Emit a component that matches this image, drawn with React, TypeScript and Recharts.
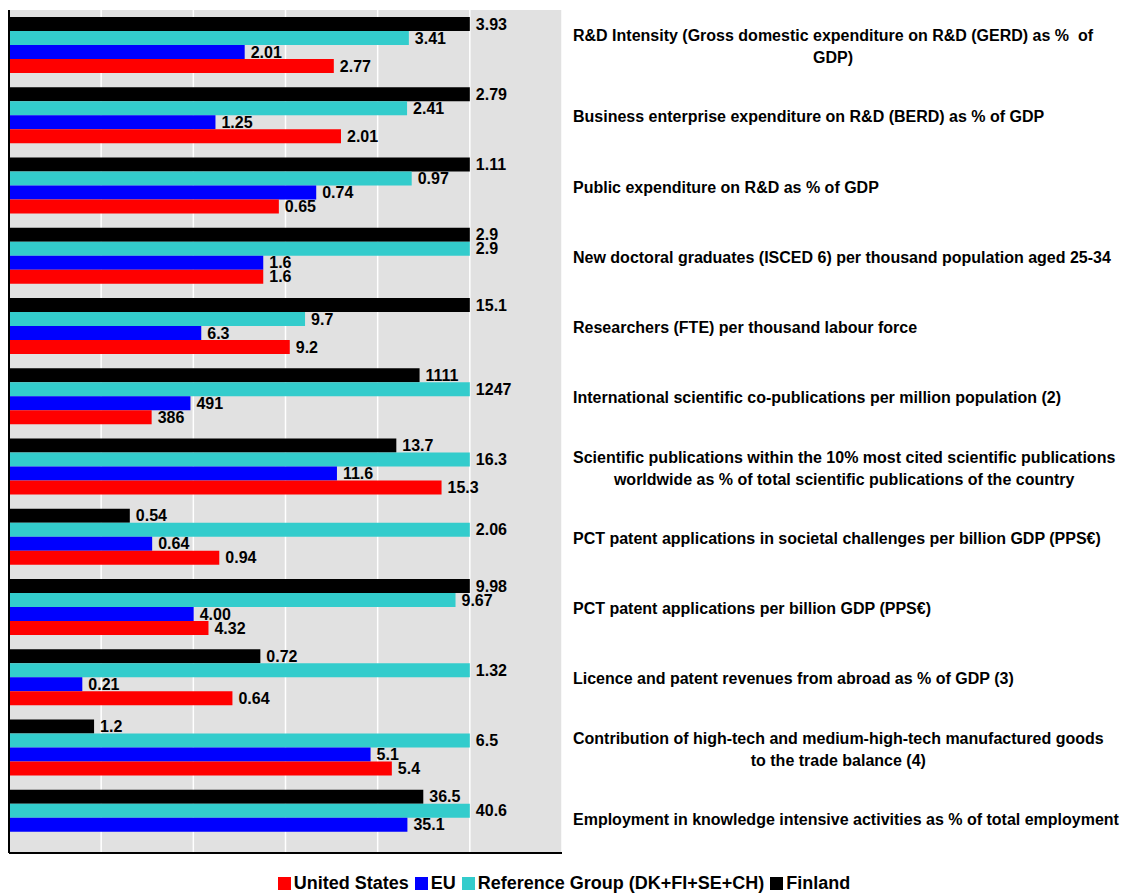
import { BarChart, Bar, XAxis, YAxis, CartesianGrid, LabelList, ReferenceLine } from 'recharts'

const categories = [
  'R&D Intensity (Gross domestic expenditure on R&D (GERD) as %  of\nGDP)',
  'Business enterprise expenditure on R&D (BERD) as % of GDP',
  'Public expenditure on R&D as % of GDP',
  'New doctoral graduates (ISCED 6) per thousand population aged 25-34',
  'Researchers (FTE) per thousand labour force',
  'International scientific co-publications per million population (2)',
  'Scientific publications within the 10% most cited scientific publications\nworldwide as % of total scientific publications of the country',
  'PCT patent applications in societal challenges per billion GDP (PPS€)',
  'PCT patent applications per billion GDP (PPS€)',
  'Licence and patent revenues from abroad as % of GDP (3)',
  'Contribution of high-tech and medium-high-tech manufactured goods\nto the trade balance (4)',
  'Employment in knowledge intensive activities as % of total employment',
]

const finland = [3.93, 2.79, 1.11, 2.9, 15.1, 1111, 13.7, 0.54, 9.98, 0.72, 1.2, 36.5]
const reference = [3.41, 2.41, 0.97, 2.9, 9.7, 1247, 16.3, 2.06, 9.67, 1.32, 6.5, 40.6]
const eu = [2.01, 1.25, 0.74, 1.6, 6.3, 491, 11.6, 0.64, 4.0, 0.21, 5.1, 35.1]
const unitedStates = [2.77, 2.01, 0.65, 1.6, 9.2, 386, 15.3, 0.94, 4.32, 0.64, 5.4, null]
const decimals = [2, 2, 2, 1, 1, 0, 1, 2, 2, 2, 1, 1]

const xTicks = [0, 20, 40, 60, 80, 100, 120]

const FONT = '"Liberation Sans", Arial, sans-serif'
const LABEL_SIZE = 16

const series = [
  { key: 'finland', name: 'Finland', values: finland, color: '#000000' },
  { key: 'reference', name: 'Reference Group (DK+FI+SE+CH)', values: reference, color: '#33CCCC' },
  { key: 'eu', name: 'EU', values: eu, color: '#0000FF' },
  { key: 'us', name: 'United States', values: unitedStates, color: '#FF0000' },
]

const legendOrder = ['us', 'eu', 'reference', 'finland']

// each indicator is scaled so the best performer = 100
const data = categories.map((name, i) => {
  const vals = series.map((s) => s.values[i]).filter((v) => v != null) as number[]
  const max = Math.max(...vals)
  const row: Record<string, any> = { name }
  series.forEach((s) => {
    const v = s.values[i]
    row[s.key] = v == null ? null : (v / max) * 100
    row[s.key + 'Label'] = v == null ? null : v.toFixed(decimals[i])
  })
  return row
})

let measureCtx: CanvasRenderingContext2D | null = null
function textWidth(str: string) {
  if (!measureCtx) {
    measureCtx = document.createElement('canvas').getContext('2d')
  }
  if (!measureCtx) return str.length * 8.5
  measureCtx.font = `bold ${LABEL_SIZE}px "Liberation Sans", Arial, sans-serif`
  return measureCtx.measureText(str).width
}

// label block is left aligned, its lines centred within the block
function CategoryTick(props: any) {
  const { x, y, payload } = props
  const lines = String(payload.value).split('\n')
  const start = -((lines.length - 1) * 22) / 2 + 1.5
  const left = x + 3
  const blockWidth = Math.max(...lines.map(textWidth))
  const centre = left + blockWidth / 2
  return (
    <g>
      {lines.map((line: string, i: number) => (
        <text
          key={i}
          x={lines.length > 1 ? centre : left}
          y={y + start + i * 22}
          dy="0.35em"
          textAnchor={lines.length > 1 ? 'middle' : 'start'}
          xmlSpace="preserve"
          style={{ whiteSpace: 'pre' }}
          fontFamily={FONT}
          fontWeight="bold"
          fontSize={LABEL_SIZE}
          fill="#000"
        >
          {line}
        </text>
      ))}
    </g>
  )
}

function LegendRow() {
  return (
    <div
      style={{
        position: 'absolute',
        top: 873,
        left: 0,
        width: 1134,
        display: 'flex',
        justifyContent: 'center',
        fontFamily: FONT,
        fontWeight: 'bold',
        fontSize: 18,
        lineHeight: '21px',
      }}
    >
      {legendOrder.map((k) => {
        const s = series.find((x) => x.key === k)!
        return (
          <span key={k} style={{ display: 'flex', alignItems: 'center', marginRight: 6 }}>
            <span style={{ width: 13, height: 13, background: s.color, marginRight: 3, display: 'inline-block' }} />
            {s.name}
          </span>
        )
      })}
    </div>
  )
}

export default function App() {
  return (
    <div style={{ position: 'absolute', left: 0, top: 0, width: 1128, height: 893, background: '#fff' }}>
      <BarChart
        width={1128}
        height={860}
        data={data}
        layout="vertical"
        margin={{ top: 10, right: 0, left: 9, bottom: 6 }}
        barCategoryGap="10%"
        barGap={0}
      >
        <CartesianGrid horizontal={false} stroke="#ffffff" strokeWidth={1.5} fill="#e1e1e1" fillOpacity={1} />
        <XAxis
          type="number"
          domain={[0, 120]}
          ticks={xTicks}
          tick={() => <g />}
          tickLine={false}
          height={1}
          axisLine={{ stroke: '#000', strokeWidth: 2 }}
        />
        <YAxis
          type="category"
          dataKey="name"
          orientation="right"
          width={566}
          axisLine={false}
          tickLine={false}
          interval={0}
          tick={<CategoryTick />}
        />
        <ReferenceLine x={0} stroke="#000" strokeWidth={2} />
        {series.map((s) => (
          <Bar key={s.key} dataKey={s.key} name={s.name} fill={s.color} isAnimationActive={false}>
            <LabelList
              dataKey={s.key + 'Label'}
              position="right"
              offset={6}
              fill="#000"
              fontFamily={FONT}
              fontWeight="bold"
              fontSize={16}
            />
          </Bar>
        ))}
      </BarChart>
      <LegendRow />
    </div>
  )
}
